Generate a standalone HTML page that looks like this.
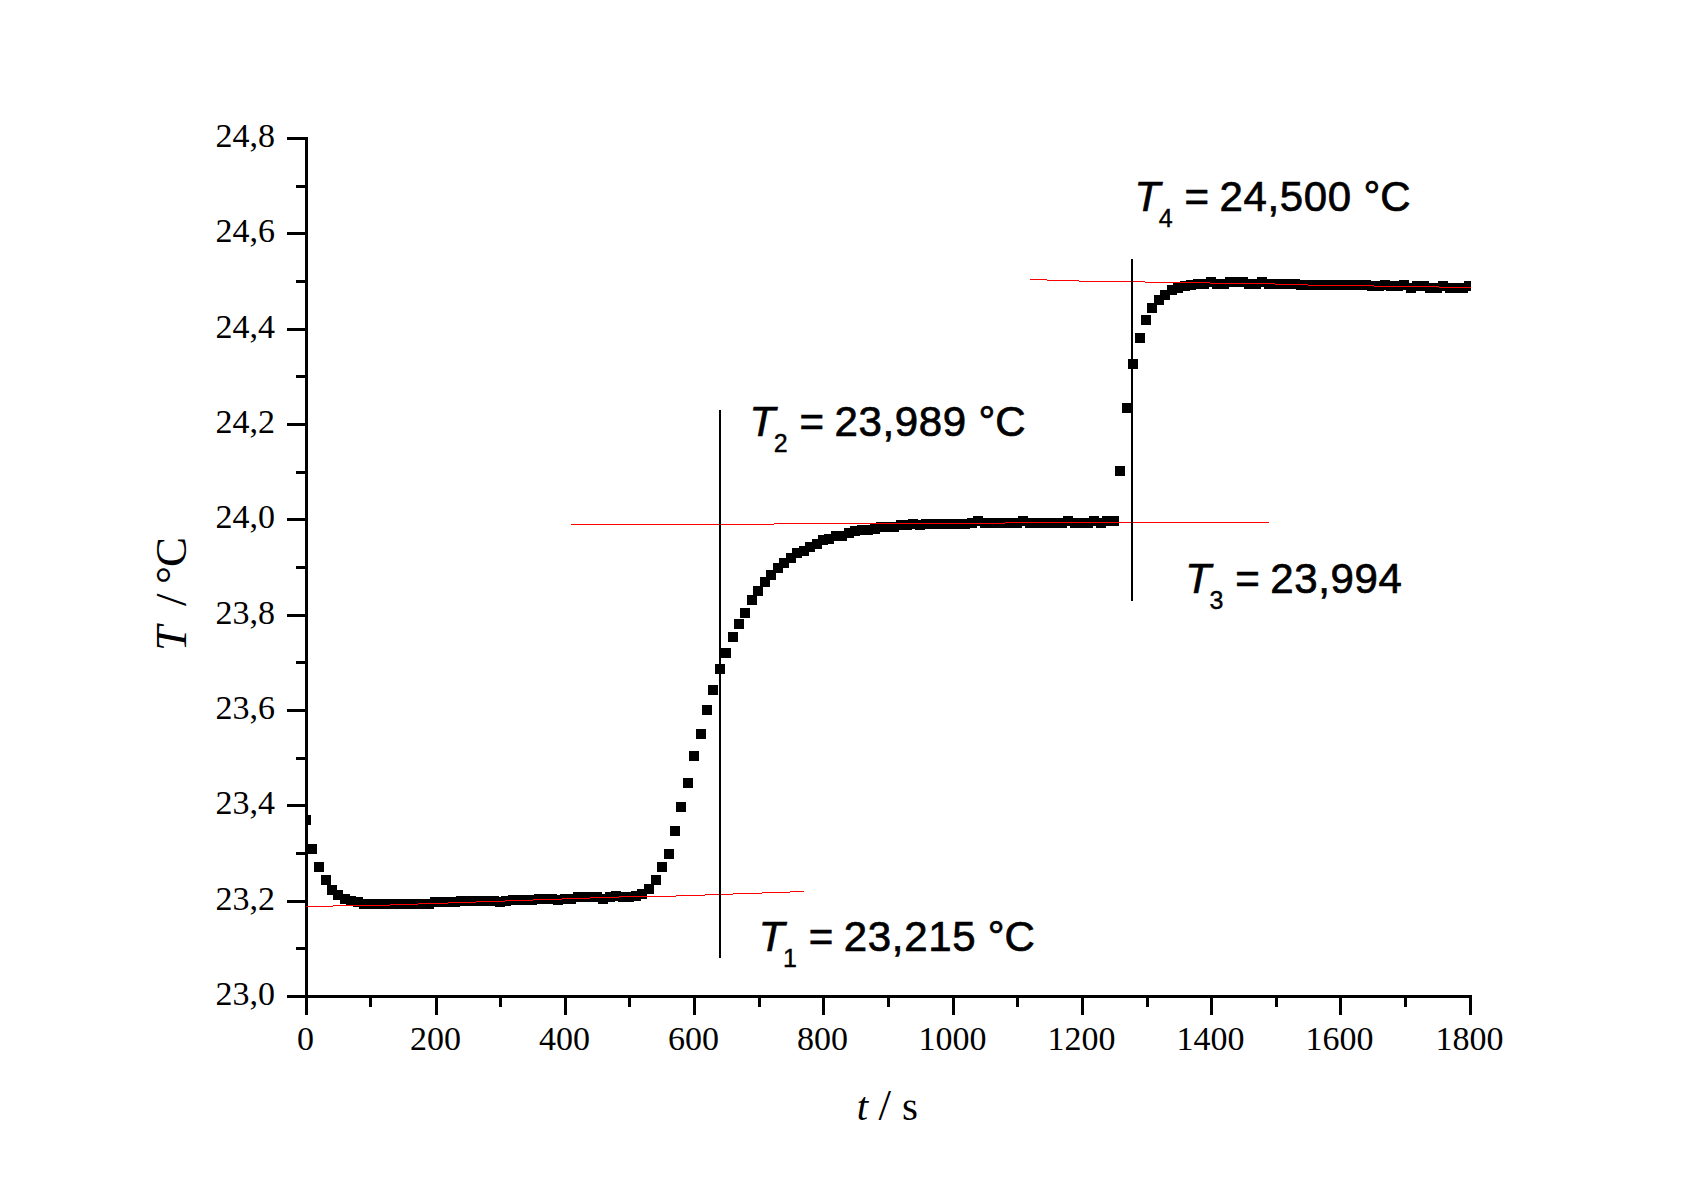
<!DOCTYPE html>
<html lang="de"><head><meta charset="utf-8"><title>T / t</title>
<style>
html,body{margin:0;padding:0;background:#fff;}
body{width:1705px;height:1192px;overflow:hidden;}
svg{display:block;}
.tk{font-family:"Liberation Serif",serif;font-size:34px;fill:#000;}
.ax{font-family:"Liberation Serif",serif;font-size:41px;fill:#000;}
.an{font-family:"Liberation Sans",sans-serif;font-size:42px;fill:#000;stroke:#000;stroke-width:0.7px;}
.ay{font-family:"Liberation Serif",serif;font-size:45px;fill:#000;}
.sl{font-size:45px;}
.dg{letter-spacing:0.65px;}
.sub{font-size:25px;stroke-width:0.4px;}
.i{font-style:italic;}
</style></head><body>
<svg width="1705" height="1192" viewBox="0 0 1705 1192">
<rect x="0" y="0" width="1705" height="1192" fill="#fff"/>
<defs><clipPath id="cp"><rect x="305" y="100" width="1166" height="900"/></clipPath></defs>
<g shape-rendering="crispEdges">
<path fill="#000" d="M305 137h3v861h-3zM287 995h1185v3h-1185zM287 137h18v3h-18zM296 185h9v3h-9zM287 232h18v3h-18zM296 280h9v3h-9zM287 328h18v3h-18zM296 375h9v3h-9zM287 423h18v3h-18zM296 471h9v3h-9zM287 518h18v3h-18zM296 566h9v3h-9zM287 614h18v3h-18zM296 661h9v3h-9zM287 709h18v3h-18zM296 757h9v3h-9zM287 804h18v3h-18zM296 852h9v3h-9zM287 900h18v3h-18zM296 947h9v3h-9zM287 995h18v3h-18zM305 998h3v17h-3zM369 998h3v9h-3zM435 998h3v17h-3zM499 998h3v9h-3zM564 998h3v17h-3zM628 998h3v9h-3zM693 998h3v17h-3zM758 998h3v9h-3zM822 998h3v17h-3zM887 998h3v9h-3zM952 998h3v17h-3zM1016 998h3v9h-3zM1081 998h3v17h-3zM1146 998h3v9h-3zM1210 998h3v17h-3zM1275 998h3v9h-3zM1339 998h3v17h-3zM1404 998h3v9h-3zM1469 998h3v17h-3z"/>
<path clip-path="url(#cp)" fill="#000" d="M301 815h10v10h-10zM307 844h10v10h-10zM314 862h10v10h-10zM321 875h10v10h-10zM327 885h10v10h-10zM333 890h10v10h-10zM340 894h10v10h-10zM346 896h10v10h-10zM353 897h10v10h-10zM359 899h10v10h-10zM366 899h10v10h-10zM372 899h10v10h-10zM379 899h10v10h-10zM385 899h10v10h-10zM392 899h10v10h-10zM398 899h10v10h-10zM405 899h10v10h-10zM411 899h10v10h-10zM417 899h10v10h-10zM424 899h10v10h-10zM430 897h10v10h-10zM437 897h10v10h-10zM443 897h10v10h-10zM450 897h10v10h-10zM456 896h10v10h-10zM463 896h10v10h-10zM469 896h10v10h-10zM476 896h10v10h-10zM482 896h10v10h-10zM489 896h10v10h-10zM495 897h10v10h-10zM501 896h10v10h-10zM508 895h10v10h-10zM514 895h10v10h-10zM521 895h10v10h-10zM527 895h10v10h-10zM534 894h10v10h-10zM540 894h10v10h-10zM547 894h10v10h-10zM553 895h10v10h-10zM560 894h10v10h-10zM566 894h10v10h-10zM573 892h10v10h-10zM579 892h10v10h-10zM585 892h10v10h-10zM592 892h10v10h-10zM598 894h10v10h-10zM605 892h10v10h-10zM611 891h10v10h-10zM618 892h10v10h-10zM624 892h10v10h-10zM631 891h10v10h-10zM637 889h10v10h-10zM644 884h10v10h-10zM651 875h10v10h-10zM657 862h10v10h-10zM664 849h10v10h-10zM670 826h10v10h-10zM676 802h10v10h-10zM683 778h10v10h-10zM689 751h10v10h-10zM696 729h10v10h-10zM702 705h10v10h-10zM708 685h10v10h-10zM715 664h10v10h-10zM721 648h10v10h-10zM728 632h10v10h-10zM734 619h10v10h-10zM740 608h10v10h-10zM747 595h10v10h-10zM753 586h10v10h-10zM760 577h10v10h-10zM766 570h10v10h-10zM773 563h10v10h-10zM779 558h10v10h-10zM786 553h10v10h-10zM792 548h10v10h-10zM799 546h10v10h-10zM805 542h10v10h-10zM812 539h10v10h-10zM818 535h10v10h-10zM824 534h10v10h-10zM831 531h10v10h-10zM837 531h10v10h-10zM844 528h10v10h-10zM850 526h10v10h-10zM857 525h10v10h-10zM863 525h10v10h-10zM870 524h10v10h-10zM876 522h10v10h-10zM883 522h10v10h-10zM889 522h10v10h-10zM896 520h10v10h-10zM902 520h10v10h-10zM908 519h10v10h-10zM915 520h10v10h-10zM921 519h10v10h-10zM928 519h10v10h-10zM934 519h10v10h-10zM941 519h10v10h-10zM947 519h10v10h-10zM954 519h10v10h-10zM960 519h10v10h-10zM967 518h10v10h-10zM973 516h10v10h-10zM980 518h10v10h-10zM986 518h10v10h-10zM992 518h10v10h-10zM999 518h10v10h-10zM1005 518h10v10h-10zM1012 518h10v10h-10zM1018 516h10v10h-10zM1025 518h10v10h-10zM1031 518h10v10h-10zM1038 518h10v10h-10zM1044 518h10v10h-10zM1051 518h10v10h-10zM1057 518h10v10h-10zM1063 516h10v10h-10zM1070 518h10v10h-10zM1076 518h10v10h-10zM1083 518h10v10h-10zM1089 516h10v10h-10zM1096 518h10v10h-10zM1102 516h10v10h-10zM1109 516h10v10h-10zM1115 466h10v10h-10zM1122 403h10v10h-10zM1128 359h10v10h-10zM1135 333h10v10h-10zM1141 315h10v10h-10zM1147 303h10v10h-10zM1154 295h10v10h-10zM1160 290h10v10h-10zM1167 285h10v10h-10zM1173 283h10v10h-10zM1180 281h10v10h-10zM1186 280h10v10h-10zM1193 279h10v10h-10zM1199 279h10v10h-10zM1206 277h10v10h-10zM1212 279h10v10h-10zM1219 279h10v10h-10zM1225 277h10v10h-10zM1231 277h10v10h-10zM1238 277h10v10h-10zM1244 279h10v10h-10zM1251 279h10v10h-10zM1257 277h10v10h-10zM1264 279h10v10h-10zM1270 279h10v10h-10zM1277 279h10v10h-10zM1283 279h10v10h-10zM1290 279h10v10h-10zM1296 280h10v10h-10zM1303 280h10v10h-10zM1309 280h10v10h-10zM1315 280h10v10h-10zM1322 280h10v10h-10zM1328 280h10v10h-10zM1335 280h10v10h-10zM1341 280h10v10h-10zM1348 280h10v10h-10zM1354 280h10v10h-10zM1361 280h10v10h-10zM1367 281h10v10h-10zM1374 281h10v10h-10zM1380 280h10v10h-10zM1386 281h10v10h-10zM1393 281h10v10h-10zM1399 280h10v10h-10zM1406 283h10v10h-10zM1412 281h10v10h-10zM1419 281h10v10h-10zM1425 283h10v10h-10zM1432 283h10v10h-10zM1438 281h10v10h-10zM1445 283h10v10h-10zM1451 283h10v10h-10zM1458 283h10v10h-10zM1464 281h10v10h-10z"/>
<path fill="#f00" d="M306 906h27v1h-27zM333 905h57v1h-57zM390 904h28v1h-28zM418 903h30v1h-30zM448 902h28v1h-28zM476 901h29v1h-29zM505 900h28v1h-28zM533 899h29v1h-29zM562 898h28v1h-28zM590 897h29v1h-29zM619 896h57v1h-57zM676 895h29v1h-29zM705 894h28v1h-28zM733 893h29v1h-29zM762 892h28v1h-28zM790 891h14v1h-14zM571 524h203v1h-203zM774 523h231v1h-231zM1005 522h264v1h-264zM1030 279h17v1h-17zM1047 280h32v1h-32zM1079 281h66v1h-66zM1145 282h65v1h-65zM1210 283h65v1h-65zM1275 284h33v1h-33zM1308 285h66v1h-66zM1374 286h65v1h-65zM1439 287h32v1h-32z"/>
<rect x="719" y="410" width="2" height="548" fill="#000"/>
<rect x="1131" y="259" width="2" height="342" fill="#000"/>
</g>
<text class="tk" transform="translate(275 147) scale(1 1.02)" text-anchor="end">24,8</text>
<text class="tk" transform="translate(275 242) scale(1 1.02)" text-anchor="end">24,6</text>
<text class="tk" transform="translate(275 338) scale(1 1.02)" text-anchor="end">24,4</text>
<text class="tk" transform="translate(275 433) scale(1 1.02)" text-anchor="end">24,2</text>
<text class="tk" transform="translate(275 528) scale(1 1.02)" text-anchor="end">24,0</text>
<text class="tk" transform="translate(275 624) scale(1 1.02)" text-anchor="end">23,8</text>
<text class="tk" transform="translate(275 719) scale(1 1.02)" text-anchor="end">23,6</text>
<text class="tk" transform="translate(275 814) scale(1 1.02)" text-anchor="end">23,4</text>
<text class="tk" transform="translate(275 910) scale(1 1.02)" text-anchor="end">23,2</text>
<text class="tk" transform="translate(275 1005) scale(1 1.02)" text-anchor="end">23,0</text>
<text class="tk" transform="translate(305.4 1050)" text-anchor="middle">0</text>
<text class="tk" transform="translate(435.4 1050)" text-anchor="middle">200</text>
<text class="tk" transform="translate(564.4 1050)" text-anchor="middle">400</text>
<text class="tk" transform="translate(693.4 1050)" text-anchor="middle">600</text>
<text class="tk" transform="translate(822.4 1050)" text-anchor="middle">800</text>
<text class="tk" transform="translate(952.4 1050)" text-anchor="middle">1000</text>
<text class="tk" transform="translate(1081.4 1050)" text-anchor="middle">1200</text>
<text class="tk" transform="translate(1210.4 1050)" text-anchor="middle">1400</text>
<text class="tk" transform="translate(1339.4 1050)" text-anchor="middle">1600</text>
<text class="tk" transform="translate(1469.4 1050)" text-anchor="middle">1800</text>
<text class="ax" y="1120"><tspan class="i" x="856.7">t </tspan><tspan class="sl" x="878.5">/ </tspan><tspan x="902">s</tspan></text>
<text class="ay" transform="translate(186 649) rotate(-90)"><tspan class="i" x="-2">T </tspan><tspan x="43">/ </tspan><tspan x="65">°</tspan><tspan x="82">C</tspan></text>
<text class="an" y="436"><tspan class="i" x="749.5">T</tspan><tspan class="sub" x="773.7" dy="16">2 </tspan><tspan x="799.5" dy="-16">= </tspan><tspan class="dg" x="834.5">23,989 </tspan><tspan x="978.5">°C</tspan></text>
<text class="an" y="211"><tspan class="i" x="1134.5">T</tspan><tspan class="sub" x="1158.7" dy="16">4 </tspan><tspan x="1184.5" dy="-16">= </tspan><tspan class="dg" x="1219.5">24,500 </tspan><tspan x="1363.5">°C</tspan></text>
<text class="an" y="593"><tspan class="i" x="1185.2">T</tspan><tspan class="sub" x="1209.4" dy="16">3 </tspan><tspan x="1235.2" dy="-16">= </tspan><tspan class="dg" x="1270.2">23,994</tspan></text>
<text class="an" y="951"><tspan class="i" x="758.8">T</tspan><tspan class="sub" x="783.0" dy="16">1 </tspan><tspan x="808.8" dy="-16">= </tspan><tspan class="dg" x="843.8">23,215 </tspan><tspan x="987.8">°C</tspan></text>
</svg>
</body></html>
